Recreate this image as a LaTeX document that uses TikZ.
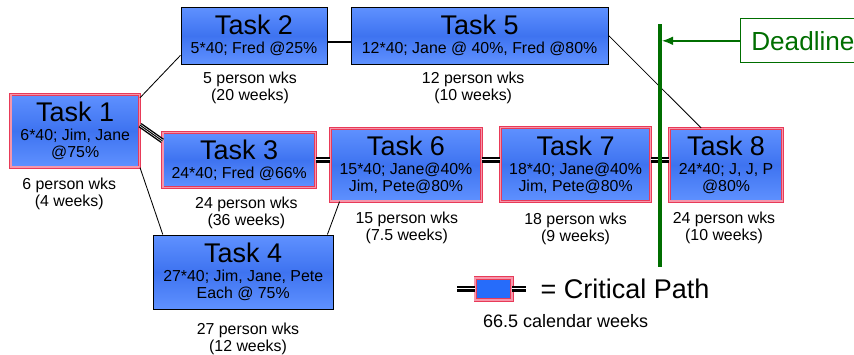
\documentclass[tikz,border=0pt]{standalone}
\usepackage{fontspec}
\setmainfont{Liberation Sans}
\usetikzlibrary{positioning, arrows.meta, calc}
\definecolor{boxlight}{RGB}{95,145,255}
\definecolor{boxdark}{RGB}{62,115,240}
\definecolor{critred}{RGB}{232,58,88}
\definecolor{critpink}{RGB}{246,150,170}
\definecolor{legblue}{RGB}{38,108,250}
\definecolor{dlgreen}{RGB}{0,110,0}
\newcommand{\tfont}{\fontsize{19.2}{20}\selectfont}
\newcommand{\subfont}{\fontsize{11.3}{12.1}\selectfont}
\tikzset{
  critborder/.style={draw=critred, double=critpink, double distance=1.2pt, line width=0.6pt},
  task/.style={draw, line width=0.7pt, top color=boxlight, bottom color=boxlight,
    middle color=boxdark, align=center, inner sep=0pt, font=\subfont},
  crittask/.style={task, critborder},
  wkstext/.style={align=center, inner sep=0pt, font=\subfont},
  critline/.style={draw, line width=3.6pt,
    postaction={draw, white, line width=1.6pt},
    postaction={draw, black, line width=0.7pt}},
  thinline/.style={line width=0.6pt}
}

\begin{document}
\begin{tikzpicture}[>=Latex]
      \useasboundingbox (0,0) rectangle (21.35,8.85);
      \clip (0,0) rectangle (21.35,8.85);
      % task boxes
      \node[crittask, minimum width=3.22cm, minimum height=1.82cm] (t1) at (1.88,5.58)
        {{\tfont Task 1}\\[1.5pt]6*40; Jim, Jane\\@75\%};
      \node[task, minimum width=3.65cm, minimum height=1.43cm] (t2) at (6.35,7.96)
        {{\tfont Task 2}\\[1.5pt]5*40; Fred @25\%};
      \node[task, minimum width=6.43cm, minimum height=1.43cm] (t5) at (11.99,7.96)
        {{\tfont Task 5}\\[1.5pt]12*40; Jane @ 40\%, Fred @80\%};
      \node[crittask, minimum width=3.82cm, minimum height=1.37cm] (t3) at (5.98,4.85)
        {{\tfont Task 3}\\[1.5pt]24*40; Fred @66\%};
      \node[crittask, minimum width=3.77cm, minimum height=1.82cm] (t6) at (10.15,4.73)
        {{\tfont Task 6}\\[1.5pt]15*40; Jane@40\%\\Jim, Pete@80\%};
      \node[crittask, minimum width=3.75cm, minimum height=1.85cm] (t7) at (14.39,4.74)
        {{\tfont Task 7}\\[1.5pt]18*40; Jane@40\%\\Jim, Pete@80\%};
      \node[crittask, minimum width=2.82cm, minimum height=1.82cm] (t8) at (18.15,4.73)
        {{\tfont Task 8}\\[1.5pt]24*40; J, J, P\\@80\%};
      \node[task, minimum width=4.5cm, minimum height=1.85cm] (t4) at (6.08,2.05)
        {{\tfont Task 4}\\[1.5pt]27*40; Jim, Jane, Pete\\Each @ 75\%};
      % effort below each box
      \node[wkstext, below=0.24cm of t1, xshift=-0.15cm] (w1) {6 person wks\\(4 weeks)};
      \node[wkstext, below=0.18cm of t2, xshift=-0.1cm] (w2) {5 person wks\\(20 weeks)};
      \node[wkstext, below=0.18cm of t5, xshift=-0.16cm] (w5) {12 person wks\\(10 weeks)};
      \node[wkstext, below=0.21cm of t3, xshift=0.18cm] (w3) {24 person wks\\(36 weeks)};
      \node[wkstext, below=0.26cm of t6, xshift=0.02cm] (w6) {15 person wks\\(7.5 weeks)};
      \node[wkstext, below=0.26cm of t7] (w7) {18 person wks\\(9 weeks)};
      \node[wkstext, below=0.26cm of t8, xshift=-0.05cm] (w8) {24 person wks\\(10 weeks)};
      \node[wkstext, below=0.33cm of t4, xshift=0.12cm] (w4) {27 person wks\\(12 weeks)};
      % other links
      \draw[thinline] (t1.27) -- (t2.195);
      \draw[line width=1.4pt] ([yshift=-0.16cm]t2.east) -- ([yshift=-0.16cm]t5.west);
      \draw[thinline] (t5.east) -- (t8.124);
      \draw[thinline] (t1.south east) -- (t4.155);
      \draw[thinline] (t4.24) -- (t6.209);
      % critical path
      \draw[critline] (t1.5) -- (t3.166);
      \draw[critline] (t3.east) -- (t3.east -| t6.west);
      \draw[critline] ([yshift=0.12cm]t6.east) -- ([yshift=0.12cm]t6.east -| t7.west);
      \draw[critline] ([yshift=0.11cm]t7.east) -- ([yshift=0.11cm]t7.east -| t8.west);
      % deadline
      \coordinate (dtop) at (16.5,8.25);
      \coordinate (dbot) at (16.5,2.175);
      \draw[dlgreen, line width=2.8pt] (dtop) -- (dbot);
      \node[draw=dlgreen, line width=0.7pt, font=\fontsize{18.6}{20}\selectfont, text=dlgreen, anchor=west,
        inner xsep=0.27cm, text width=3cm, align=left, minimum height=1.1cm] (dl) at (18.5,7.83) {Deadline};
      \draw[dlgreen, line width=1pt, -{Latex[length=0.28cm,width=0.22cm]}, shorten >=1.4pt]
        (dl.west) -- (dl.west -| dtop);
      % legend
      \coordinate (legL) at (11.43,1.625);
      \coordinate (legR) at (13.15,1.625);
      \node[critborder, fill=legblue, minimum width=0.92cm, minimum height=0.55cm] (legbox) at (12.34,1.625) {};
      \draw[critline] (legL) -- (legbox.west);
      \draw[critline] (legbox.east) -- (legR);
      \node[right=0.7cm of legbox, inner sep=0pt, font=\tfont] (crit) {= Critical Path};
      \node[inner sep=0pt, font=\fontsize{12.8}{14}\selectfont] (cal) at (14.14,0.83) {66.5 calendar weeks};
    \end{tikzpicture}
\end{document}
